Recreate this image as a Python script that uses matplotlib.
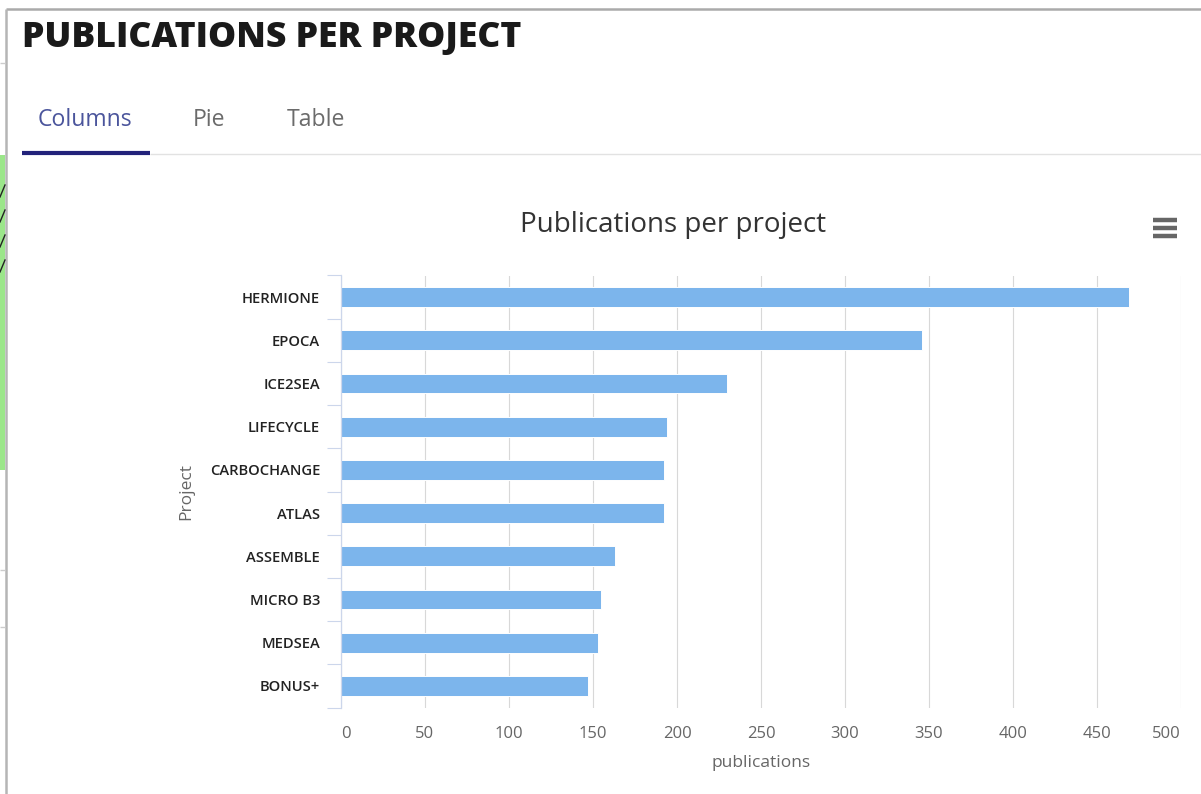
import matplotlib.pyplot as plt
from matplotlib.lines import Line2D
from matplotlib.patches import Rectangle
import numpy as np

plt.rcParams['font.family'] = ['Open Sans', 'DejaVu Sans']

# data
projects = ['HERMIONE', 'EPOCA', 'ICE2SEA', 'LIFECYCLE', 'CARBOCHANGE',
            'ATLAS', 'ASSEMBLE', 'MICRO B3', 'MEDSEA', 'BONUS+']
publications = [469, 346, 230, 194, 192, 192, 163, 155, 153, 147]
x_ticks = [0, 50, 100, 150, 200, 250, 300, 350, 400, 450, 500]

W, H = 1201, 794
fig = plt.figure(figsize=(W / 100, H / 100), dpi=100)
fig.patch.set_facecolor('white')


def fx(px):
    return px / W


def fy(py):
    return 1 - py / H


def hline(x0, x1, y, color, lw):
    fig.add_artist(Line2D([fx(x0), fx(x1)], [fy(y), fy(y)], color=color, lw=lw,
                          solid_capstyle='butt'))


def vline(x, y0, y1, color, lw):
    fig.add_artist(Line2D([fx(x), fx(x)], [fy(y0), fy(y1)], color=color, lw=lw,
                          solid_capstyle='butt'))


# page frame and the sliver of the neighbouring panel on the left
hline(6, W, 9, '#aaaaaa', 1.8)
vline(6, 9, H, '#b5b5b5', 1.8)
fig.add_artist(Rectangle((0, fy(470)), fx(5), fy(155) - fy(470),
                         transform=fig.transFigure, color='#9be68a', lw=0))
for y0 in [185, 210, 235, 260]:
    fig.add_artist(Line2D([0, fx(5)], [fy(y0 + 12), fy(y0)], color='#222222', lw=1))
hline(0, 5, 63, '#cccccc', 1)
hline(0, 5, 570, '#cccccc', 1)
hline(0, 5, 627, '#cccccc', 1)

# heading and tabs
fig.text(fx(22), fy(38), 'PUBLICATIONS PER PROJECT', fontsize=25.6, fontweight=800,
         fontstretch='normal', color='#1a1a1a', va='center', ha='left')
fig.text(fx(38), fy(120), 'Columns', fontsize=16.6, color='#4b559c', va='center')
fig.text(fx(193), fy(120), 'Pie', fontsize=16.6, color='#6b6b6b', va='center')
fig.text(fx(287), fy(120), 'Table', fontsize=16.6, color='#6b6b6b', va='center')
hline(150, W, 154, '#e2e2e2', 1)
hline(22, 150, 152.5, '#22227a', 3)

# chart title and menu icon
fig.text(fx(673), fy(225), 'Publications per project', fontsize=20, color='#333333',
         ha='center', va='center')
for dy in [-8, 0, 8]:
    hline(1153, 1177, 228 + dy, '#666666', 3.2)

# plot area
left, right, top, bottom = 341, 1181, 275.5, 707.5
ax = fig.add_axes([fx(left), fy(bottom), fx(right) - fx(left), fy(top) - fy(bottom)])
ypos = np.arange(len(projects))
ax.barh(ypos, publications, height=0.46, color='#7cb5ec', edgecolor='white',
        linewidth=0.7, zorder=3)
ax.set_xlim(0, 500)
ax.set_ylim(len(projects) - 0.5, -0.5)

ax.set_yticks(ypos)
ax.set_yticklabels(projects)
ax.set_yticks(np.arange(-0.5, len(projects), 1), minor=True)
ax.tick_params(axis='y', which='major', length=0, pad=15, labelsize=10.6, labelcolor='#222222')
ax.tick_params(axis='y', which='minor', length=10, width=0.8, color='#ccd6eb')
for lab in ax.get_yticklabels():
    lab.set_fontweight('semibold')

ax.set_xticks(x_ticks)
ax.tick_params(axis='x', length=0, pad=13, labelsize=12, labelcolor='#666666')
xlabels = ax.get_xticklabels()
xlabels[0].set_horizontalalignment('left')
xlabels[-1].set_horizontalalignment('right')
ax.grid(axis='x', color='#d8d8d8', lw=0.8, zorder=0)

for s in ['top', 'right', 'bottom']:
    ax.spines[s].set_visible(False)
ax.spines['left'].set_color('#ccd6eb')
ax.spines['left'].set_linewidth(0.9)
ax.spines['left'].set_zorder(4)

fig.text(fx(186), fy(492), 'Project', rotation=90, fontsize=12.5, color='#666666',
         ha='center', va='center')
fig.text(fx(761), fy(763), 'publications', fontsize=12.5, color='#666666',
         ha='center', va='center')

fig.savefig('out.png', dpi=100)
